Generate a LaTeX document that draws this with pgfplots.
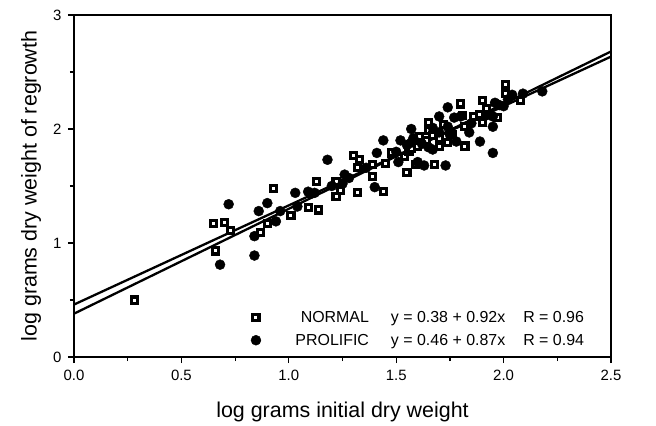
\documentclass[border=0pt]{standalone}
\usepackage{pgfplots}
\pgfplotsset{compat=1.18}
\usepackage{fontspec}
\setmainfont{Liberation Sans}
\pgfdeclareplotmark{sqdot}{%
  \pgfsetfillcolor{black}%
  \pgfpathrectangle{\pgfpoint{-4.6bp}{-4.6bp}}{\pgfpoint{9.2bp}{9.2bp}}%
  \pgfusepath{fill}%
  \pgfsetfillcolor{white}%
  \pgfpathrectangle{\pgfpoint{-1.5bp}{-1.5bp}}{\pgfpoint{3bp}{3bp}}%
  \pgfusepath{fill}%
  \pgfsetfillcolor{black}}
\pgfplotstableread{
x y
0.28 0.50
0.65 1.17
0.70 1.18
0.73 1.11
0.66 0.93
0.87 1.09
0.90 1.17
0.93 1.48
1.01 1.24
1.09 1.31
1.14 1.29
1.13 1.54
1.22 1.41
1.22 1.54
1.24 1.46
1.30 1.77
1.33 1.73
1.32 1.44
1.32 1.66
1.39 1.69
1.39 1.58
1.44 1.45
1.45 1.70
1.48 1.79
1.55 1.62
1.59 1.69
1.54 1.76
1.60 1.85
1.61 1.93
1.65 2.06
1.65 1.99
1.67 1.94
1.64 1.90
1.70 1.92
1.70 1.85
1.74 1.88
1.72 2.04
1.80 2.22
1.81 2.12
1.82 2.02
1.82 1.85
1.86 2.11
1.90 2.25
1.90 2.06
1.92 2.18
1.89 2.13
2.01 2.31
2.01 2.39
2.08 2.25
1.56 1.80
1.68 1.69
1.76 1.95
1.57 1.83
1.97 2.10
}\normaltable
\pgfplotstableread{
x y
0.68 0.81
0.72 1.34
0.84 1.06
0.84 0.89
0.86 1.28
0.90 1.35
0.94 1.19
1.03 1.44
1.04 1.32
1.09 1.45
1.10 1.43
1.18 1.73
1.26 1.60
1.25 1.52
1.40 1.49
1.41 1.79
1.44 1.90
1.51 1.71
1.57 2.00
1.57 1.88
1.63 1.68
1.67 1.82
1.70 2.11
1.74 2.19
1.74 2.02
1.78 1.89
1.77 2.10
1.84 1.97
1.95 2.02
1.95 2.11
1.95 1.79
1.96 2.23
2.00 2.20
2.04 2.30
2.09 2.31
2.18 2.33
2.02 2.26
1.52 1.90
1.50 1.80
1.60 1.71
1.73 1.68
1.80 2.11
1.85 2.05
1.89 1.89
1.67 2.01
1.58 1.92
1.62 1.87
1.65 1.84
1.70 1.97
1.75 1.95
1.55 1.86
1.12 1.44
1.20 1.50
1.28 1.57
1.36 1.66
1.98 2.21
1.92 2.12
0.96 1.28
}\prolifictable
\begin{document}
\begin{tikzpicture}
\useasboundingbox (-74bp,-69bp) rectangle (582bp,357bp);
\begin{axis}[
  scale only axis, width=537bp, height=342bp,
  xmin=0, xmax=2.5, ymin=0, ymax=3,
  xtick={0,0.5,1,1.5,2,2.5}, ytick={0,1,2,3},
  minor x tick num=1, minor y tick num=1,
  xtick pos=left, ytick pos=left, tick align=outside,
  major tick length=6bp, minor tick length=4bp,
  axis line style={line width=1.3bp}, every tick/.style={black, line width=1.2bp},
  /pgf/number format/assume math mode=true,
  xticklabel style={font=\fontsize{15}{18}\selectfont, yshift=-4bp, /pgf/number format/.cd, fixed, fixed zerofill, precision=1},
  yticklabel style={font=\fontsize{15}{18}\selectfont, xshift=-3bp},
  xlabel={log grams initial dry weight},
  ylabel={log grams dry weight of regrowth},
  xlabel style={font=\fontsize{21.5}{24}\selectfont, at={(axis description cs:0.5,0)}, anchor=center, yshift=-55bp},
  ylabel style={font=\fontsize{21.5}{24}\selectfont, at={(axis description cs:0,0.5)}, anchor=center, yshift=43bp},
  legend style={draw=none, fill=none, at={(axis cs:0.823,0.42)}, anchor=north west, font=\fontsize{16}{18}\selectfont, inner sep=0pt, row sep=6bp},
  legend cell align=left,
  clip=false,
]
\addplot[black, line width=2.3bp, forget plot] coordinates {(0,0.38) (2.5,2.68)};
\addplot[black, line width=2.3bp, forget plot] coordinates {(0,0.46) (2.5,2.635)};
\addplot[only marks, mark=sqdot, black] table {\normaltable};
\addlegendentry{\makebox[106bp][r]{NORMAL}\hspace{22bp}y = 0.38 + 0.92x\hspace{18bp}R = 0.96}
\addplot[only marks, mark=*, mark size=5bp, mark options={fill=black, draw=black}] table {\prolifictable};
\addlegendentry{\makebox[106bp][r]{PROLIFIC}\hspace{22bp}y = 0.46 + 0.87x\hspace{18bp}R = 0.94}
\end{axis}
\end{tikzpicture}
\end{document}
